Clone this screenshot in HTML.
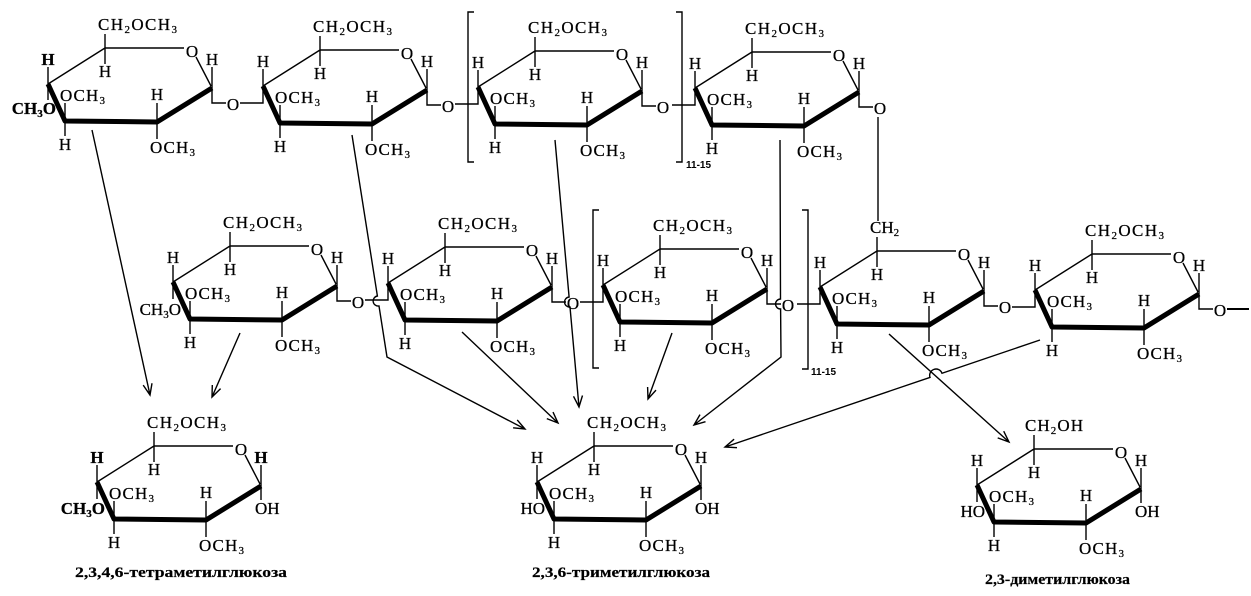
<!DOCTYPE html>
<html><head><meta charset="utf-8"><style>
html,body{margin:0;padding:0;background:#fff;width:1251px;height:596px;overflow:hidden}
svg{display:block}
path{fill:none;stroke:#000;stroke-width:1.4;stroke-linecap:butt}
path.k{stroke-width:5;stroke-linejoin:round}
text{font-family:"Liberation Serif",serif;font-size:17px;fill:#000;stroke:#000;stroke-width:0.25}
.m{text-anchor:middle}
.s{font-size:11px}
.b{font-weight:bold}
.lb{font-size:15px;font-weight:bold;stroke-width:0.2}
.n{font-size:10px;font-weight:bold;font-family:"Liberation Sans",sans-serif;stroke-width:0}
</style></head><body>
<svg width="1251" height="596" viewBox="0 0 1251 596" xmlns="http://www.w3.org/2000/svg">

<!-- R1 -->
<g transform="translate(0,0)">
<path d="M48,84 L105,48 L184,48 M196,57 L211,86 M105,48 V34 M105,48 V64 M48,84 V67 M65,121 V103 M65,121 V136 M157,122 V103 M157,122 V139 M212,88 V67"/>
<path class="k" d="M48,84 L65,121 L157,122 L212,88"/>
<text x="98" y="30" textLength="79">CH<tspan class="s" dy="3">2</tspan><tspan dy="-3">OCH</tspan><tspan class="s" dy="3">3</tspan></text>
<text x="192" y="57" class="m">O</text><text x="105" y="77" class="m">H</text><text x="48" y="65" class="m b">H</text>
<text x="60" y="101" textLength="45">OCH<tspan class="s" dy="3">3</tspan></text>
<text x="65" y="150" class="m">H</text><text x="157" y="100" class="m">H</text>
<text x="150" y="153" textLength="45">OCH<tspan class="s" dy="3">3</tspan></text>
<text x="212" y="65" class="m">H</text>
<path d="M48,84 V100"/><text x="56" y="114" text-anchor="end" class="b">CH<tspan class="s" dy="3">3</tspan><tspan dy="-3">O</tspan></text>
<path d="M212,88 V103 H226"/><text x="233" y="110" class="m">O</text>
</g>

<!-- R2 -->
<g transform="translate(215,2)">
<path d="M48,84 L105,48 L184,48 M196,57 L211,86 M105,48 V34 M105,48 V64 M48,84 V67 M65,121 V103 M65,121 V136 M157,122 V103 M157,122 V139 M212,88 V67"/>
<path class="k" d="M48,84 L65,121 L157,122 L212,88"/>
<text x="98" y="30" textLength="79">CH<tspan class="s" dy="3">2</tspan><tspan dy="-3">OCH</tspan><tspan class="s" dy="3">3</tspan></text>
<text x="192" y="57" class="m">O</text><text x="105" y="77" class="m">H</text><text x="48" y="65" class="m">H</text>
<text x="60" y="101" textLength="45">OCH<tspan class="s" dy="3">3</tspan></text>
<text x="65" y="150" class="m">H</text><text x="157" y="100" class="m">H</text>
<text x="150" y="153" textLength="45">OCH<tspan class="s" dy="3">3</tspan></text>
<text x="212" y="65" class="m">H</text>
<path d="M48,84 V101 H25"/>
<path d="M212,88 V103 H226"/><text x="233" y="110" class="m">O</text>
</g>

<!-- R3 -->
<g transform="translate(430,3)">
<path d="M48,84 L105,48 L184,48 M196,57 L211,86 M105,48 V34 M105,48 V64 M48,84 V67 M65,121 V103 M65,121 V136 M157,122 V103 M157,122 V139 M212,88 V67"/>
<path class="k" d="M48,84 L65,121 L157,122 L212,88"/>
<text x="98" y="30" textLength="79">CH<tspan class="s" dy="3">2</tspan><tspan dy="-3">OCH</tspan><tspan class="s" dy="3">3</tspan></text>
<text x="192" y="57" class="m">O</text><text x="105" y="77" class="m">H</text><text x="48" y="65" class="m">H</text>
<text x="60" y="101" textLength="45">OCH<tspan class="s" dy="3">3</tspan></text>
<text x="65" y="150" class="m">H</text><text x="157" y="100" class="m">H</text>
<text x="150" y="153" textLength="45">OCH<tspan class="s" dy="3">3</tspan></text>
<text x="212" y="65" class="m">H</text>
<path d="M48,84 V101 H25"/>
<path d="M212,88 V103 H226"/><text x="233" y="110" class="m">O</text>
</g>

<!-- R4 -->
<g transform="translate(647,4)">
<path d="M48,84 L105,48 L184,48 M196,57 L211,86 M105,48 V34 M105,48 V64 M48,84 V67 M65,121 V103 M65,121 V136 M157,122 V103 M157,122 V139 M212,88 V67"/>
<path class="k" d="M48,84 L65,121 L157,122 L212,88"/>
<text x="98" y="30" textLength="79">CH<tspan class="s" dy="3">2</tspan><tspan dy="-3">OCH</tspan><tspan class="s" dy="3">3</tspan></text>
<text x="192" y="57" class="m">O</text><text x="105" y="77" class="m">H</text><text x="48" y="65" class="m">H</text>
<text x="60" y="101" textLength="45">OCH<tspan class="s" dy="3">3</tspan></text>
<text x="65" y="150" class="m">H</text><text x="157" y="100" class="m">H</text>
<text x="150" y="153" textLength="45">OCH<tspan class="s" dy="3">3</tspan></text>
<text x="212" y="65" class="m">H</text>
<path d="M48,84 V101 H25"/>
<path d="M212,88 V103 H226"/><text x="233" y="110" class="m">O</text>
</g>

<!-- top brackets -->
<path d="M474,12 H468 V162 H474 M676,12 H682 V162 H676"/>
<text x="686" y="168" class="n">11-15</text>
<!-- 1-6 link -->
<path d="M878,117 V221"/>

<!-- RA -->
<g transform="translate(125,198)">
<path d="M48,84 L105,48 L184,48 M196,57 L211,86 M105,48 V34 M105,48 V64 M48,84 V67 M65,121 V103 M65,121 V136 M157,122 V103 M157,122 V139 M212,88 V67"/>
<path class="k" d="M48,84 L65,121 L157,122 L212,88"/>
<text x="98" y="30" textLength="79">CH<tspan class="s" dy="3">2</tspan><tspan dy="-3">OCH</tspan><tspan class="s" dy="3">3</tspan></text>
<text x="192" y="57" class="m">O</text><text x="105" y="77" class="m">H</text><text x="48" y="65" class="m">H</text>
<text x="60" y="101" textLength="45">OCH<tspan class="s" dy="3">3</tspan></text>
<text x="65" y="150" class="m">H</text><text x="157" y="100" class="m">H</text>
<text x="150" y="153" textLength="45">OCH<tspan class="s" dy="3">3</tspan></text>
<text x="212" y="65" class="m">H</text>
<path d="M48,84 V101"/><text x="56" y="117" text-anchor="end">CH<tspan class="s" dy="3">3</tspan><tspan dy="-3">O</tspan></text>
<path d="M212,88 V103 H226"/><text x="233" y="110" class="m">O</text>
</g>

<!-- RB -->
<g transform="translate(340,199)">
<path d="M48,84 L105,48 L184,48 M196,57 L211,86 M105,48 V34 M105,48 V64 M48,84 V67 M65,121 V103 M65,121 V136 M157,122 V103 M157,122 V139 M212,88 V67"/>
<path class="k" d="M48,84 L65,121 L157,122 L212,88"/>
<text x="98" y="30" textLength="79">CH<tspan class="s" dy="3">2</tspan><tspan dy="-3">OCH</tspan><tspan class="s" dy="3">3</tspan></text>
<text x="192" y="57" class="m">O</text><text x="105" y="77" class="m">H</text><text x="48" y="65" class="m">H</text>
<text x="60" y="101" textLength="45">OCH<tspan class="s" dy="3">3</tspan></text>
<text x="65" y="150" class="m">H</text><text x="157" y="100" class="m">H</text>
<text x="150" y="153" textLength="45">OCH<tspan class="s" dy="3">3</tspan></text>
<text x="212" y="65" class="m">H</text>
<path d="M48,84 V101 H25"/>
<path d="M212,88 V103 H226"/><text x="233" y="110" class="m">O</text>
</g>

<!-- RC -->
<g transform="translate(555,201)">
<path d="M48,84 L105,48 L184,48 M196,57 L211,86 M105,48 V34 M105,48 V64 M48,84 V67 M65,121 V103 M65,121 V136 M157,122 V103 M157,122 V139 M212,88 V67"/>
<path class="k" d="M48,84 L65,121 L157,122 L212,88"/>
<text x="98" y="30" textLength="79">CH<tspan class="s" dy="3">2</tspan><tspan dy="-3">OCH</tspan><tspan class="s" dy="3">3</tspan></text>
<text x="192" y="57" class="m">O</text><text x="105" y="77" class="m">H</text><text x="48" y="65" class="m">H</text>
<text x="60" y="101" textLength="45">OCH<tspan class="s" dy="3">3</tspan></text>
<text x="65" y="150" class="m">H</text><text x="157" y="100" class="m">H</text>
<text x="150" y="153" textLength="45">OCH<tspan class="s" dy="3">3</tspan></text>
<text x="212" y="65" class="m">H</text>
<path d="M48,84 V101 H25"/>
<path d="M212,88 V103 H226"/><text x="233" y="110" class="m">O</text>
</g>

<!-- RD -->
<g transform="translate(772,203)">
<path d="M48,84 L105,48 L184,48 M196,57 L211,86 M105,48 V34 M105,48 V64 M48,84 V67 M65,121 V103 M65,121 V136 M157,122 V103 M157,122 V139 M212,88 V67"/>
<path class="k" d="M48,84 L65,121 L157,122 L212,88"/>
<text x="98" y="30">CH<tspan class="s" dy="3">2</tspan></text>
<text x="192" y="57" class="m">O</text><text x="105" y="77" class="m">H</text><text x="48" y="65" class="m">H</text>
<text x="60" y="101" textLength="45">OCH<tspan class="s" dy="3">3</tspan></text>
<text x="65" y="150" class="m">H</text><text x="157" y="100" class="m">H</text>
<text x="150" y="153" textLength="45">OCH<tspan class="s" dy="3">3</tspan></text>
<text x="212" y="65" class="m">H</text>
<path d="M48,84 V101 H25"/>
<path d="M212,88 V103 H226"/><text x="233" y="110" class="m">O</text>
</g>

<!-- RE -->
<g transform="translate(987,206)">
<path d="M48,84 L105,48 L184,48 M196,57 L211,86 M105,48 V34 M105,48 V64 M48,84 V67 M65,121 V103 M65,121 V136 M157,122 V103 M157,122 V139 M212,88 V67"/>
<path class="k" d="M48,84 L65,121 L157,122 L212,88"/>
<text x="98" y="30" textLength="79">CH<tspan class="s" dy="3">2</tspan><tspan dy="-3">OCH</tspan><tspan class="s" dy="3">3</tspan></text>
<text x="192" y="57" class="m">O</text><text x="105" y="77" class="m">H</text><text x="48" y="65" class="m">H</text>
<text x="60" y="101" textLength="45">OCH<tspan class="s" dy="3">3</tspan></text>
<text x="65" y="150" class="m">H</text><text x="157" y="100" class="m">H</text>
<text x="150" y="153" textLength="45">OCH<tspan class="s" dy="3">3</tspan></text>
<text x="212" y="65" class="m">H</text>
<path d="M48,84 V101 H25"/>
<path d="M212,88 V103 H226"/><text x="233" y="110" class="m">O</text>
<path d="M240,103 H262" style="stroke-width:2"/>
</g>

<!-- row 2 brackets -->
<path d="M599,210 H593 V368 H599 M802,210 H808 V369 H802"/>
<text x="811" y="375" class="n">11-15</text>

<!-- P1 -->
<g transform="translate(49,398)">
<path d="M48,84 L105,48 L184,48 M196,57 L211,86 M105,48 V34 M105,48 V64 M48,84 V67 M65,121 V103 M65,121 V136 M157,122 V103 M157,122 V139 M212,88 V67"/>
<path class="k" d="M48,84 L65,121 L157,122 L212,88"/>
<text x="98" y="30" textLength="79">CH<tspan class="s" dy="3">2</tspan><tspan dy="-3">OCH</tspan><tspan class="s" dy="3">3</tspan></text>
<text x="192" y="57" class="m">O</text><text x="105" y="77" class="m">H</text><text x="48" y="65" class="m b">H</text>
<text x="60" y="101" textLength="45">OCH<tspan class="s" dy="3">3</tspan></text>
<text x="65" y="150" class="m">H</text><text x="157" y="100" class="m">H</text>
<text x="150" y="153" textLength="45">OCH<tspan class="s" dy="3">3</tspan></text>
<text x="212" y="65" class="m b">H</text>
<path d="M48,84 V101"/><text x="56" y="116" text-anchor="end" class="b">CH<tspan class="s" dy="3">3</tspan><tspan dy="-3">O</tspan></text>
<path d="M212,88 V102"/><text x="206" y="116">OH</text>
</g>

<!-- P2 -->
<g transform="translate(489,398)">
<path d="M48,84 L105,48 L184,48 M196,57 L211,86 M105,48 V34 M105,48 V64 M48,84 V67 M65,121 V103 M65,121 V136 M157,122 V103 M157,122 V139 M212,88 V67"/>
<path class="k" d="M48,84 L65,121 L157,122 L212,88"/>
<text x="98" y="30" textLength="79">CH<tspan class="s" dy="3">2</tspan><tspan dy="-3">OCH</tspan><tspan class="s" dy="3">3</tspan></text>
<text x="192" y="57" class="m">O</text><text x="105" y="77" class="m">H</text><text x="48" y="65" class="m">H</text>
<text x="60" y="101" textLength="45">OCH<tspan class="s" dy="3">3</tspan></text>
<text x="65" y="150" class="m">H</text><text x="157" y="100" class="m">H</text>
<text x="150" y="153" textLength="45">OCH<tspan class="s" dy="3">3</tspan></text>
<text x="212" y="65" class="m">H</text>
<path d="M48,84 V101"/><text x="56" y="116" text-anchor="end">HO</text>
<path d="M212,88 V102"/><text x="206" y="116">OH</text>
</g>

<!-- P3 -->
<g transform="translate(929,401)">
<path d="M48,84 L105,48 L184,48 M196,57 L211,86 M105,48 V34 M105,48 V64 M48,84 V67 M65,121 V103 M65,121 V136 M157,122 V103 M157,122 V139 M212,88 V67"/>
<path class="k" d="M48,84 L65,121 L157,122 L212,88"/>
<text x="96" y="30" textLength="58">CH<tspan class="s" dy="3">2</tspan><tspan dy="-3">OH</tspan></text>
<text x="192" y="57" class="m">O</text><text x="105" y="77" class="m">H</text><text x="48" y="65" class="m">H</text>
<text x="60" y="101" textLength="45">OCH<tspan class="s" dy="3">3</tspan></text>
<text x="65" y="150" class="m">H</text><text x="157" y="100" class="m">H</text>
<text x="150" y="153" textLength="45">OCH<tspan class="s" dy="3">3</tspan></text>
<text x="212" y="65" class="m">H</text>
<path d="M48,84 V101"/><text x="56" y="116" text-anchor="end">HO</text>
<path d="M212,88 V102"/><text x="206" y="116">OH</text>
</g>

<!-- arrows -->
<path d="M92,130 L150,395 M152,383.2 L150,395 L143.2,385.1"/>
<path d="M240,333 L212,397 M220.6,388.6 L212,397 L212.3,385"/>
<path d="M352,135 L377.4,296 A5,5 0 0 0 379,306 L387,357 L525,429 M517.2,419.9 L525,429 L513.1,427.8"/>
<path d="M462,332 L558,423 M553,412.1 L558,423 L546.8,418.6"/>
<path d="M555,140 L569.1,297 A5,5 0 0 0 570,307 L579,407 M582.5,395.5 L579,407 L573.5,396.3"/>
<path d="M672,333 L648,399 M656,390.1 L648,399 L647.6,387"/>
<path d="M780,140 L780.5,299 A5,5 0 0 0 780.6,309 L781,357 L694,425 M705.5,421.7 L694,425 L700,414.6"/>
<path d="M1040,340 L942,373.3 A6,6 0 0 0 930,377.4 L725,447 M737,447.7 L725,447 L734.1,439.2"/>
<path d="M889,334 L1009,442 M1003.7,431.2 L1009,442 L997.7,437.9"/>

<!-- labels -->
<text x="75" y="577" class="lb" textLength="212" lengthAdjust="spacingAndGlyphs">2,3,4,6-тетраметилглюкоза</text>
<text x="532" y="577" class="lb" textLength="178" lengthAdjust="spacingAndGlyphs">2,3,6-триметилглюкоза</text>
<text x="985" y="584" class="lb" textLength="145" lengthAdjust="spacingAndGlyphs">2,3-диметилглюкоза</text>
</svg>
</body></html>
